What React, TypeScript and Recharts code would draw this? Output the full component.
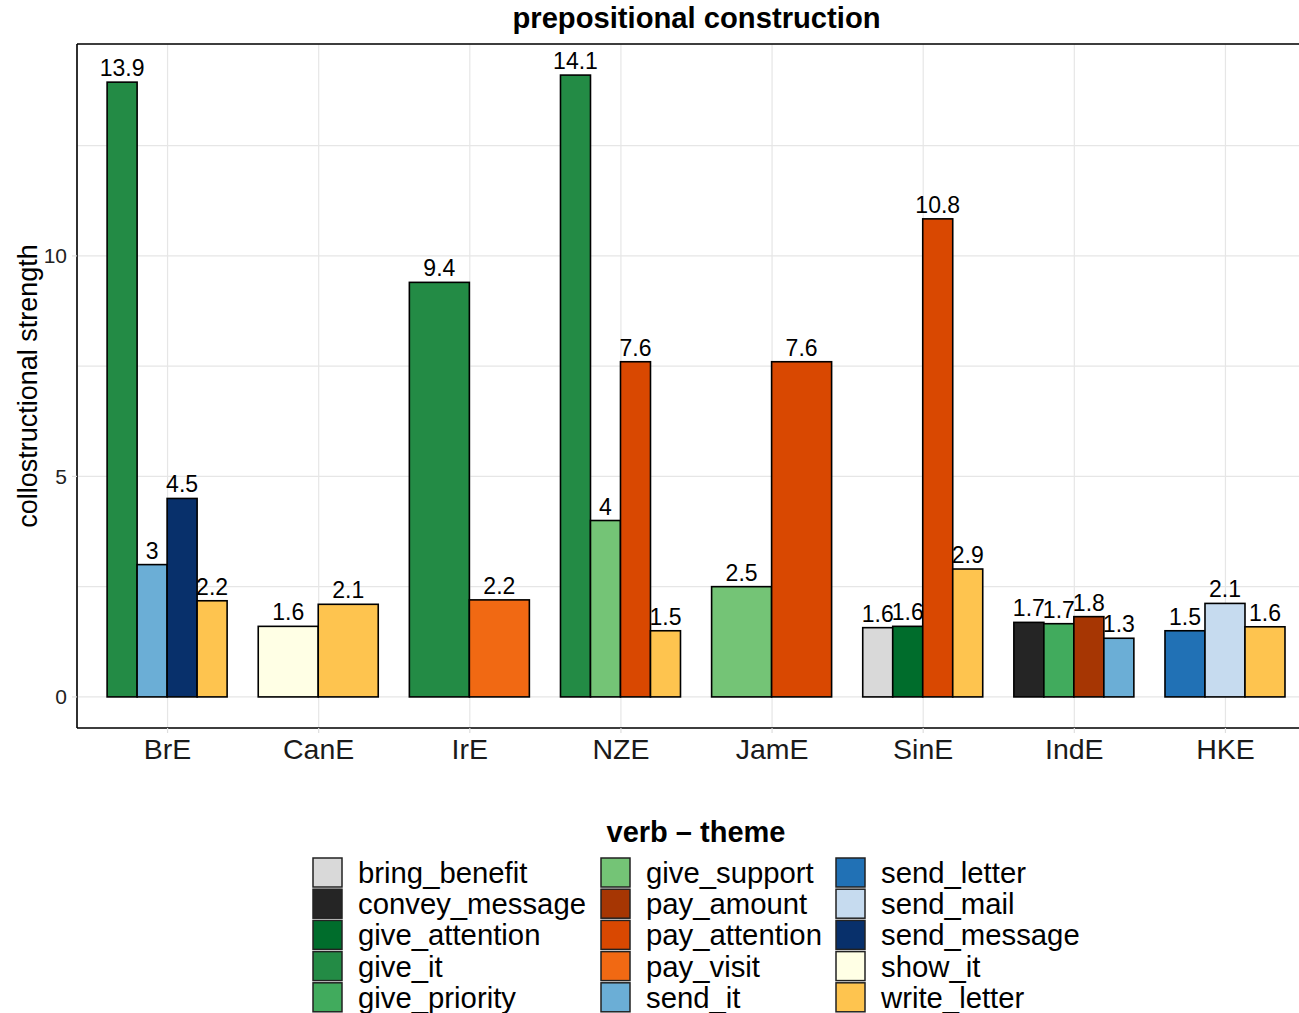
import React from "react";
import { BarChart, Bar, XAxis, YAxis, CartesianGrid, ReferenceLine } from "recharts";

// varieties on the x axis
const regions = ["BrE", "CanE", "IrE", "NZE", "JamE", "SinE", "IndE", "HKE"];

// verb – theme pairs (legend / fill order)
const verbThemes = [
  "bring_benefit", "convey_message", "give_attention", "give_it", "give_priority",
  "give_support", "pay_amount", "pay_attention", "pay_visit", "send_it",
  "send_letter", "send_mail", "send_message", "show_it", "write_letter",
];

const fills = [
  "#D9D9D9", "#252525", "#006D2C", "#238B45", "#41AB5D",
  "#74C476", "#A63603", "#D94801", "#F16913", "#6BAED6",
  "#2171B5", "#C6DBEF", "#08306B", "#FFFFE5", "#FEC44F",
];

// collostructional strength per pair, one value per region (null = not attested)
const bringBenefit = [null, null, null, null, null, 1.57, null, null];
const conveyMessage = [null, null, null, null, null, null, 1.69, null];
const giveAttention = [null, null, null, null, null, 1.6, null, null];
const giveIt = [13.94, null, 9.4, 14.1, null, null, null, null];
const givePriority = [null, null, null, null, null, null, 1.66, null];
const giveSupport = [null, null, null, 4.0, 2.5, null, null, null];
const payAmount = [null, null, null, null, null, null, 1.82, null];
const payAttention = [null, null, null, 7.6, 7.6, 10.84, null, null];
const payVisit = [null, null, 2.2, null, null, null, null, null];
const sendIt = [3.0, null, null, null, null, null, 1.33, null];
const sendLetter = [null, null, null, null, null, null, null, 1.5];
const sendMail = [null, null, null, null, null, null, null, 2.12];
const sendMessage = [4.5, null, null, null, null, null, null, null];
const showIt = [null, 1.6, null, null, null, null, null, null];
const writeLetter = [2.18, 2.1, null, 1.5, null, 2.9, null, 1.59];

const yTicks = [0, 2.5, 5, 7.5, 10, 12.5];

const seriesValues: (number | null)[][] = [
  bringBenefit, conveyMessage, giveAttention, giveIt, givePriority,
  giveSupport, payAmount, payAttention, payVisit, sendIt,
  sendLetter, sendMail, sendMessage, showIt, writeLetter,
];

const rows = regions.map((region, i) => {
  const row: Record<string, any> = { region };
  verbThemes.forEach((vt, s) => {
    row[vt] = seriesValues[s][i];
  });
  return row;
});

// which series actually have a bar in each region (ggplot-style dodge)
const present = regions.map((_, i) =>
  verbThemes.map((_, s) => s).filter((s) => seriesValues[s][i] != null)
);

const fmt = (v: number) => String(Math.round(v * 10) / 10);
const FONT = "'Liberation Sans', Arial, Helvetica, sans-serif";

function dodgedBar(s: number) {
  return (props: any) => {
    const { x, y, width, height, payload } = props;
    const v = payload ? payload[verbThemes[s]] : null;
    if (v == null) return <g />;
    const ci = regions.indexOf(payload.region);
    const slots = present[ci];
    const k = slots.indexOf(s);
    const groupW = width * verbThemes.length;
    const start = x - s * width;
    const w = groupW / slots.length;
    const bx = start + k * w;
    return (
      <g>
        <rect x={bx} y={y} width={w} height={height} fill={fills[s]} stroke="#000" strokeWidth={1.6} />
        <text x={bx + w / 2} y={y - 6} textAnchor="middle" fontSize={23} fill="#000" fontFamily={FONT}>
          {fmt(v)}
        </text>
      </g>
    );
  };
}

const YTick = (props: any) => {
  const { x, y, payload } = props;
  if (payload.value % 5 !== 0) return <g />;
  return (
    <g>
      <line x1={x + 5} x2={x + 10} y1={y} y2={y} stroke="#dedede" strokeWidth={1.2} />
      <text x={x} y={y} dy="0.36em" textAnchor="end" fontSize={21} fill="#222" fontFamily={FONT}>
        {payload.value}
      </text>
    </g>
  );
};

export default function App() {
  return (
    <div
      style={{
        position: "absolute",
        left: 0,
        top: 0,
        width: 1299,
        height: 1013,
        overflow: "hidden",
        background: "#fff",
        fontFamily: FONT,
      }}
    >
      <BarChart
        width={1330}
        height={790}
        data={rows}
        margin={{ top: 44, right: 14, bottom: 0, left: 0 }}
        barCategoryGap="10%"
        barGap={0}
      >
        <CartesianGrid stroke="#e6e6e6" strokeWidth={1.2} />
        <XAxis
          dataKey="region"
          height={62}
          padding={{ left: 15, right: 15 }}
          tickSize={5}
          tickMargin={6}
          tickLine={{ stroke: "#dedede", strokeWidth: 1.2 }}
          axisLine={{ stroke: "#000", strokeWidth: 1.6 }}
          tick={{ fontSize: 28.5, fill: "#1a1a1a", fontFamily: FONT }}
          interval={0}
        />
        <YAxis
          type="number"
          width={77}
          domain={[-0.705, 14.805]}
          ticks={yTicks}
          allowDataOverflow
          interval={0}
          tickSize={5}
          tickMargin={5}
          tickLine={false}
          axisLine={{ stroke: "#000", strokeWidth: 1.6 }}
          tick={<YTick />}
        />
        <ReferenceLine y={14.805} stroke="#000" strokeWidth={1.6} />
        {verbThemes.map((vt, s) => (
          <Bar key={vt} dataKey={vt} fill={fills[s]} shape={dodgedBar(s)} isAnimationActive={false} />
        ))}
      </BarChart>

      <svg
        width={1299}
        height={1013}
        style={{ position: "absolute", left: 0, top: 0, pointerEvents: "none" }}
        fontFamily={FONT}
      >
        <text x={696.5} y={28} textAnchor="middle" fontSize={29.2} fontWeight="bold" fill="#000">
          prepositional construction
        </text>
        <text
          x={37}
          y={386}
          transform="rotate(-90 37 386)"
          textAnchor="middle"
          fontSize={27}
          fill="#000"
        >
          collostructional strength
        </text>
        <text x={696} y={842} textAnchor="middle" fontSize={29} fontWeight="bold" fill="#000">
          verb – theme
        </text>
        {verbThemes.map((vt, s) => {
          const col = Math.floor(s / 5);
          const row = s % 5;
          const kx = [313, 601, 836][col];
          const ky = 858 + row * 31.2;
          return (
            <g key={vt}>
              <rect x={kx} y={ky} width={29} height={29} fill={fills[s]} stroke="#222" strokeWidth={1.5} />
              <text x={kx + 45} y={ky + 25} fontSize={29.3} fill="#000">
                {vt}
              </text>
            </g>
          );
        })}
      </svg>
    </div>
  );
}
